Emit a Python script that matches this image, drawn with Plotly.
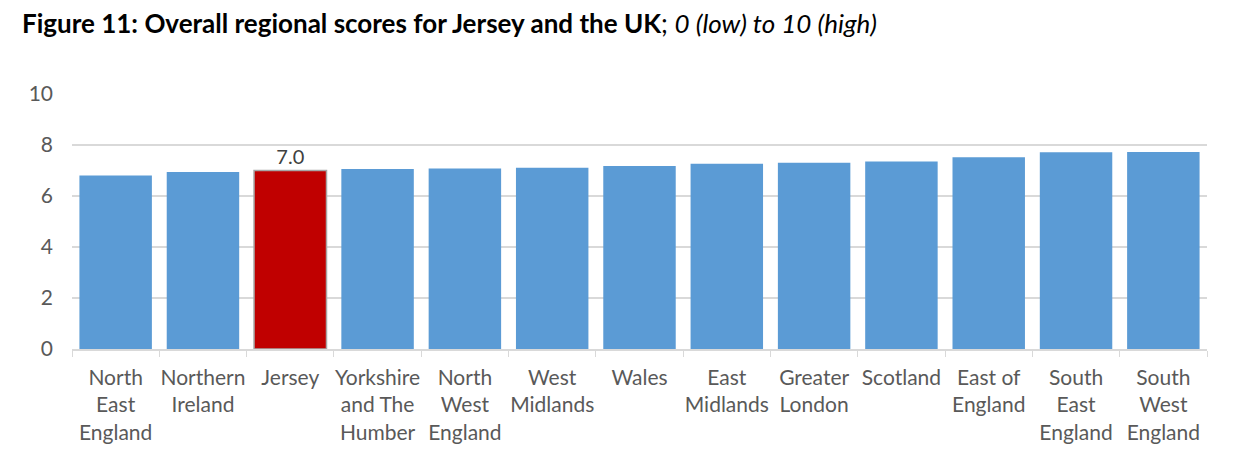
import plotly.graph_objects as go

# regions in display order, and the overall scores
regions = ['North East England', 'Northern Ireland', 'Jersey',
           'Yorkshire and The Humber', 'North West England', 'West Midlands',
           'Wales', 'East Midlands', 'Greater London', 'Scotland',
           'East of England', 'South East England', 'South West England']
tick_labels = ['North<br>East<br>England', 'Northern<br>Ireland', 'Jersey',
               'Yorkshire<br>and The<br>Humber', 'North<br>West<br>England',
               'West<br>Midlands', 'Wales', 'East<br>Midlands',
               'Greater<br>London', 'Scotland', 'East of<br>England',
               'South<br>East<br>England', 'South<br>West<br>England']
scores = [6.8, 6.94, 7.0, 7.06, 7.08, 7.11, 7.18, 7.26, 7.3, 7.35, 7.52, 7.72, 7.73]

highlight = 'Jersey'
colours = ['#C00000' if r == highlight else '#5B9BD5' for r in regions]
line_w = [1.5 if r == highlight else 0 for r in regions]
labels = ['%.1f' % s if r == highlight else '' for r, s in zip(regions, scores)]

font = 'Lato, Liberation Sans, sans-serif'

fig = go.Figure(go.Bar(
    x=regions, y=scores,
    marker=dict(color=colours, line=dict(color='#A6A6A6', width=line_w)),
    text=labels, textposition='outside', cliponaxis=False,
    textfont=dict(size=20, color='#404040', family=font),
    hoverinfo='x+y',
))

# page body adds an 8px offset, so the figure is a bit smaller than the window
fig.update_layout(
    width=1232, height=459,
    margin=dict(l=64, r=33, t=86, b=118, autoexpand=False),
    plot_bgcolor='white', paper_bgcolor='white',
    bargap=0.17, showlegend=False,
    font=dict(family=font, color='#595959', size=20),
    title=dict(
        text='<b>Figure 11: Overall regional scores for Jersey and the UK</b>;'
             ' <i>0 (low) to 10 (high)</i>',
        x=14 / 1232, xref='container', xanchor='left',
        y=1 - 16 / 459, yref='container', yanchor='middle',
        font=dict(size=26, color='black', family=font),
    ),
)

fig.update_xaxes(
    tickmode='array', tickvals=regions, ticktext=tick_labels, tickangle=0,
    automargin=False, ticklabelstandoff=9,
    showline=True, linecolor='#D9D9D9', linewidth=1.5,
    ticks='outside', tickson='boundaries', ticklen=6, tickcolor='#D9D9D9',
    tickfont=dict(size=21, color='#595959'),
    showgrid=False,
)
fig.update_yaxes(
    range=[0, 10], dtick=2, tick0=0, automargin=False,
    showgrid=True, gridcolor='#D9D9D9', gridwidth=1.5,
    zeroline=False, showline=False,
    ticks='', ticklabelstandoff=18,
    tickfont=dict(size=21, color='#595959'),
)

fig.write_html("out.html")
